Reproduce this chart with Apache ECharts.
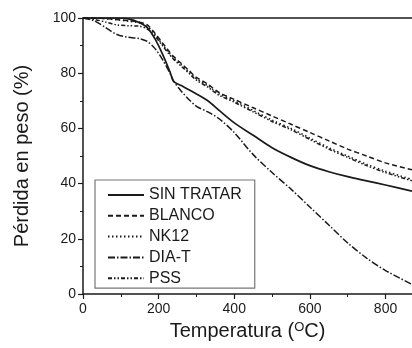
<!DOCTYPE html>
<html>
<head>
<meta charset="utf-8">
<script src="https://cdn.jsdelivr.net/npm/echarts@6/dist/echarts.min.js"></script>
<style>
  html, body { margin: 0; padding: 0; background: #fff; }
  #chart { width: 412px; height: 348px; }
</style>
</head>
<body>
<div id="chart"></div>
<script>
// Temperatures (°C) shared by all curves
const temps = [0, 30, 60, 90, 120, 150, 170, 190, 210, 230, 240, 260, 280, 300, 330, 360, 400, 450, 500, 550, 600, 650, 700, 750, 800, 870];

// Weight (%) per sample
const sinTratar = [100, 100, 100, 100, 99.7, 98.3, 96.5, 92.5, 87, 80.5, 77, 75.5, 74, 72.5, 70, 66.5, 62, 57.5, 53, 49.5, 46.5, 44.3, 42.5, 41, 39.5, 37.3];
const blanco = [100, 100, 99.8, 99.5, 99, 98.5, 97.5, 94.5, 91, 87.5, 86, 83.5, 81, 78.5, 76, 73, 70.5, 67.5, 64.5, 61.5, 58.5, 55.5, 52.5, 50, 47.5, 45];
const nk12 = [100, 100, 99.7, 99.3, 98.8, 98.2, 97, 94, 90.5, 87, 85.5, 83, 80.5, 78, 75.5, 72.5, 70, 66.5, 63, 60, 56.5, 53, 50, 47, 44.5, 41.5];
const diaT = [100, 99, 96.5, 94, 93, 92.5, 91.5, 89, 85, 80, 77, 73.5, 70.5, 68, 66, 63.5, 58.5, 50.5, 44, 38, 31.5, 25, 18.5, 13, 8.5, 3.5];
const pss = [100, 99.5, 98.5, 97.5, 97.2, 97, 96, 93.5, 90, 86.5, 85, 82.5, 80, 77.5, 75, 72, 69.5, 66, 62.5, 59.5, 56, 52.5, 49.5, 46.5, 44, 41];

const seriesNames = ["SIN TRATAR", "BLANCO", "NK12", "DIA-T", "PSS"];
const seriesValues = [sinTratar, blanco, nk12, diaT, pss];
const dashTypes = ["solid", [5, 3], [1.5, 2.5], [7, 2, 1.5, 2], [4, 2, 1.5, 2, 1.5, 2]];

const xTicks = [0, 200, 400, 600, 800];

const ink = "#1a1a1a";
const font = "Liberation Sans, Arial, sans-serif";

const chart = echarts.init(document.getElementById("chart"));

const option = {
  backgroundColor: "#fff",
  animation: false,
  grid: { left: 83, right: 0, top: 18, bottom: 54 },
  legend: {
    orient: "vertical",
    left: 95,
    top: 180,
    padding: [7, 13, 2, 12],
    itemGap: 4.8,
    itemWidth: 36,
    itemHeight: 14,
    borderColor: "#777",
    borderWidth: 1.2,
    itemStyle: { opacity: 0 },
    data: seriesNames,
    textStyle: { color: ink, fontSize: 16, fontFamily: font },
  },
  xAxis: [
    {
      type: "value",
      min: 0,
      max: 870,
      interval: 200,
      position: "bottom",
      axisLine: { lineStyle: { color: ink, width: 1.5 } },
      axisTick: { length: 5, lineStyle: { color: ink, width: 1.2 }, customValues: xTicks },
      minorTick: { show: true, splitNumber: 2, length: 3, lineStyle: { color: ink } },
      axisLabel: { color: ink, fontSize: 14, fontFamily: font, margin: 8, customValues: xTicks },
      splitLine: { show: false },
      name: "Temperatura ({sup|O}C)",
      nameLocation: "middle",
      nameGap: 24,
      nameTextStyle: {
        color: ink,
        fontSize: 20,
        fontFamily: font,
        rich: { sup: { fontSize: 13, verticalAlign: "top", padding: [0, 0, 8, 0], color: ink, fontFamily: font } },
      },
    },
    {
      type: "value",
      min: 0,
      max: 870,
      position: "top",
      axisLine: { show: true, lineStyle: { color: ink, width: 1.5 } },
      axisTick: { show: false },
      axisLabel: { show: false },
      splitLine: { show: false },
    },
  ],
  yAxis: {
    type: "value",
    min: 0,
    max: 100,
    interval: 20,
    axisLine: { show: true, lineStyle: { color: ink, width: 1.5 } },
    axisTick: { show: true, length: 5, lineStyle: { color: ink, width: 1.2 } },
    minorTick: { show: true, splitNumber: 2, length: 3, lineStyle: { color: ink } },
    axisLabel: { color: ink, fontSize: 14, fontFamily: font, margin: 7 },
    splitLine: { show: false },
    name: "Pérdida en peso (%)",
    nameLocation: "middle",
    nameGap: 51,
    nameTextStyle: { color: ink, fontSize: 20, fontFamily: font },
  },
  series: seriesNames.map((name, i) => ({
    name: name,
    type: "line",
    xAxisIndex: 0,
    symbol: "none",
    smooth: 0.3,
    data: temps.map((t, j) => [t, seriesValues[i][j]]),
    lineStyle: { color: ink, width: i === 0 ? 1.7 : 1.5, type: dashTypes[i] },
    itemStyle: { color: ink },
  })),
};

chart.setOption(option);
</script>
</body>
</html>
